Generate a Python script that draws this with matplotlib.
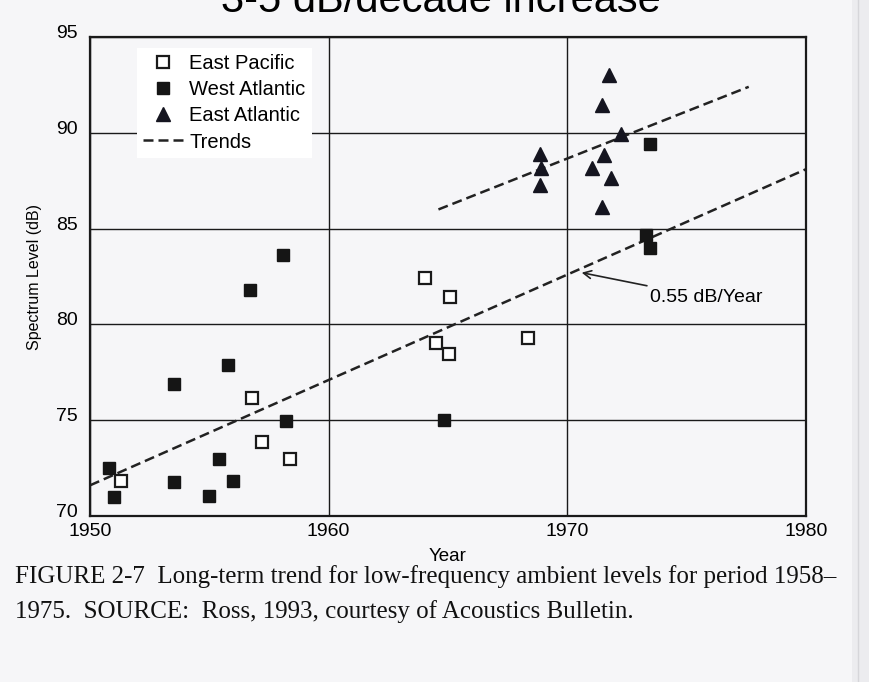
import matplotlib
matplotlib.use("Agg")
import matplotlib.pyplot as plt
import matplotlib.transforms as mtransforms
import numpy as np

plt.rcParams["font.family"] = ["Liberation Sans", "DejaVu Sans"]

# measurements, year vs spectrum level (dB)
east_pacific_year = [1951.3, 1956.8, 1957.2, 1958.4, 1964.05, 1965.1, 1964.5, 1965.05, 1968.35]
east_pacific_db = [71.85, 76.15, 73.85, 73.0, 82.4, 81.45, 79.05, 78.45, 79.3]

west_atlantic_year = [1950.8, 1951.0, 1953.5, 1953.5, 1955.0, 1955.4, 1956.0, 1955.8,
                      1956.7, 1958.1, 1958.2, 1964.85, 1973.45, 1973.3, 1973.45]
west_atlantic_db = [72.5, 71.0, 76.9, 71.8, 71.05, 72.95, 71.85, 77.9,
                    81.8, 83.6, 74.95, 75.0, 89.4, 84.65, 84.0]

east_atlantic_year = [1968.85, 1968.9, 1968.85, 1971.75, 1971.45, 1972.25, 1971.55,
                      1971.05, 1971.85, 1971.45]
east_atlantic_db = [88.9, 88.15, 87.3, 93.0, 91.45, 89.95, 88.85, 88.15, 87.65, 86.15]

# long-term trend: 0.55 dB/year over the whole period
trend_years = [1950, 1980]
trend_start_db = 71.6
trend_rate = 0.55

# trend through the 1964-1977 data
upper_trend_years = [1964.6, 1977.6]
upper_trend_db = [86.0, 92.4]

x_ticks = [1950, 1960, 1970, 1980]
y_ticks = [70, 75, 80, 85, 90, 95]

bg = "#f6f6f8"
fig = plt.figure(figsize=(8.69, 6.82), dpi=100, facecolor=bg)
ax = fig.add_axes([90 / 869, 1 - 516 / 682, 716 / 869, 479 / 682])
ax.set_facecolor(bg)

ax.set_xlim(1950, 1980)
ax.set_ylim(70, 95)
ax.set_xticks(x_ticks)
ax.set_yticks(y_ticks)
ax.tick_params(length=0, labelsize=14)
ax.tick_params(axis="x", pad=5)
ax.tick_params(axis="y", pad=9)
ax.grid(True, color="#1a1a1a", lw=1.0)
ax.set_axisbelow(True)
for s in ax.spines.values():
    s.set_linewidth(1.6)
    s.set_color("#1a1a1a")

# nudge y tick labels up a little
offset = mtransforms.ScaledTranslation(0, 4 / 72, fig.dpi_scale_trans)
for lab in ax.get_yticklabels():
    lab.set_transform(lab.get_transform() + offset)

ax.plot(east_pacific_year, east_pacific_db, "s", ms=9, mfc="white", mec="#1a1a1a",
        mew=1.6, ls="none", label="East Pacific", zorder=3)
ax.plot(west_atlantic_year, west_atlantic_db, "s", ms=9, mfc="#151515", mec="#151515",
        ls="none", label="West Atlantic", zorder=3)
ax.plot(east_atlantic_year, east_atlantic_db, "^", ms=10, mfc="#151520", mec="#151520",
        ls="none", label="East Atlantic", zorder=3)

trend_db = trend_start_db + trend_rate * (np.array(trend_years) - trend_years[0])
ax.plot(trend_years, trend_db, color="#222222", lw=1.8, ls=(0, (4, 2)),
        label="Trends", zorder=2)
ax.plot(upper_trend_years, upper_trend_db, color="#222222", lw=1.8, ls=(0, (4, 2)),
        zorder=2)

ax.annotate("%.2f dB/Year" % trend_rate, xy=(1970.6, 82.7), xytext=(1973.45, 81.4),
            fontsize=14, va="center", ha="left",
            arrowprops=dict(arrowstyle="->", color="#222222", lw=1.2,
                            shrinkA=2, shrinkB=0))

leg = ax.legend(loc="upper left", bbox_to_anchor=(0.06, 0.986), fontsize=14.5,
                frameon=True, facecolor="white", edgecolor="none", framealpha=1,
                handlelength=2.0, handletextpad=0.3, labelspacing=0.36,
                borderpad=0.3, borderaxespad=0.2, fancybox=False)
leg.get_frame().set_linewidth(0)

ax.set_xlabel("Year", fontsize=13.5, labelpad=6)
ax.set_ylabel("Spectrum Level (dB)", fontsize=11.5, labelpad=10)

# heading cut off at the top of the page
fig.text(441 / 869, 1 - 12 / 682, "3-5 dB/decade increase", fontsize=30,
         ha="center", va="baseline")

cap_font = ["Liberation Serif", "DejaVu Serif"]
fig.text(15 / 869, 1 - 577 / 682,
         "FIGURE 2-7  Long-term trend for low-frequency ambient levels for period 1958\u2013",
         fontsize=18, family=cap_font, ha="left", va="center", color="#111111")
fig.text(15 / 869, 1 - 612 / 682,
         "1975.  SOURCE:  Ross, 1993, courtesy of Acoustics Bulletin.",
         fontsize=18, family=cap_font, ha="left", va="center", color="#111111")

# page edge on the right
fig.patches.append(plt.Rectangle((852 / 869, 0), 17 / 869, 1, transform=fig.transFigure,
                                 facecolor="#ececef", edgecolor="none"))
fig.lines.append(plt.Line2D([858 / 869, 858 / 869], [0, 1], transform=fig.transFigure,
                            color="#d6d6da", lw=1))

fig.savefig("out.png", dpi=100, facecolor=bg)
